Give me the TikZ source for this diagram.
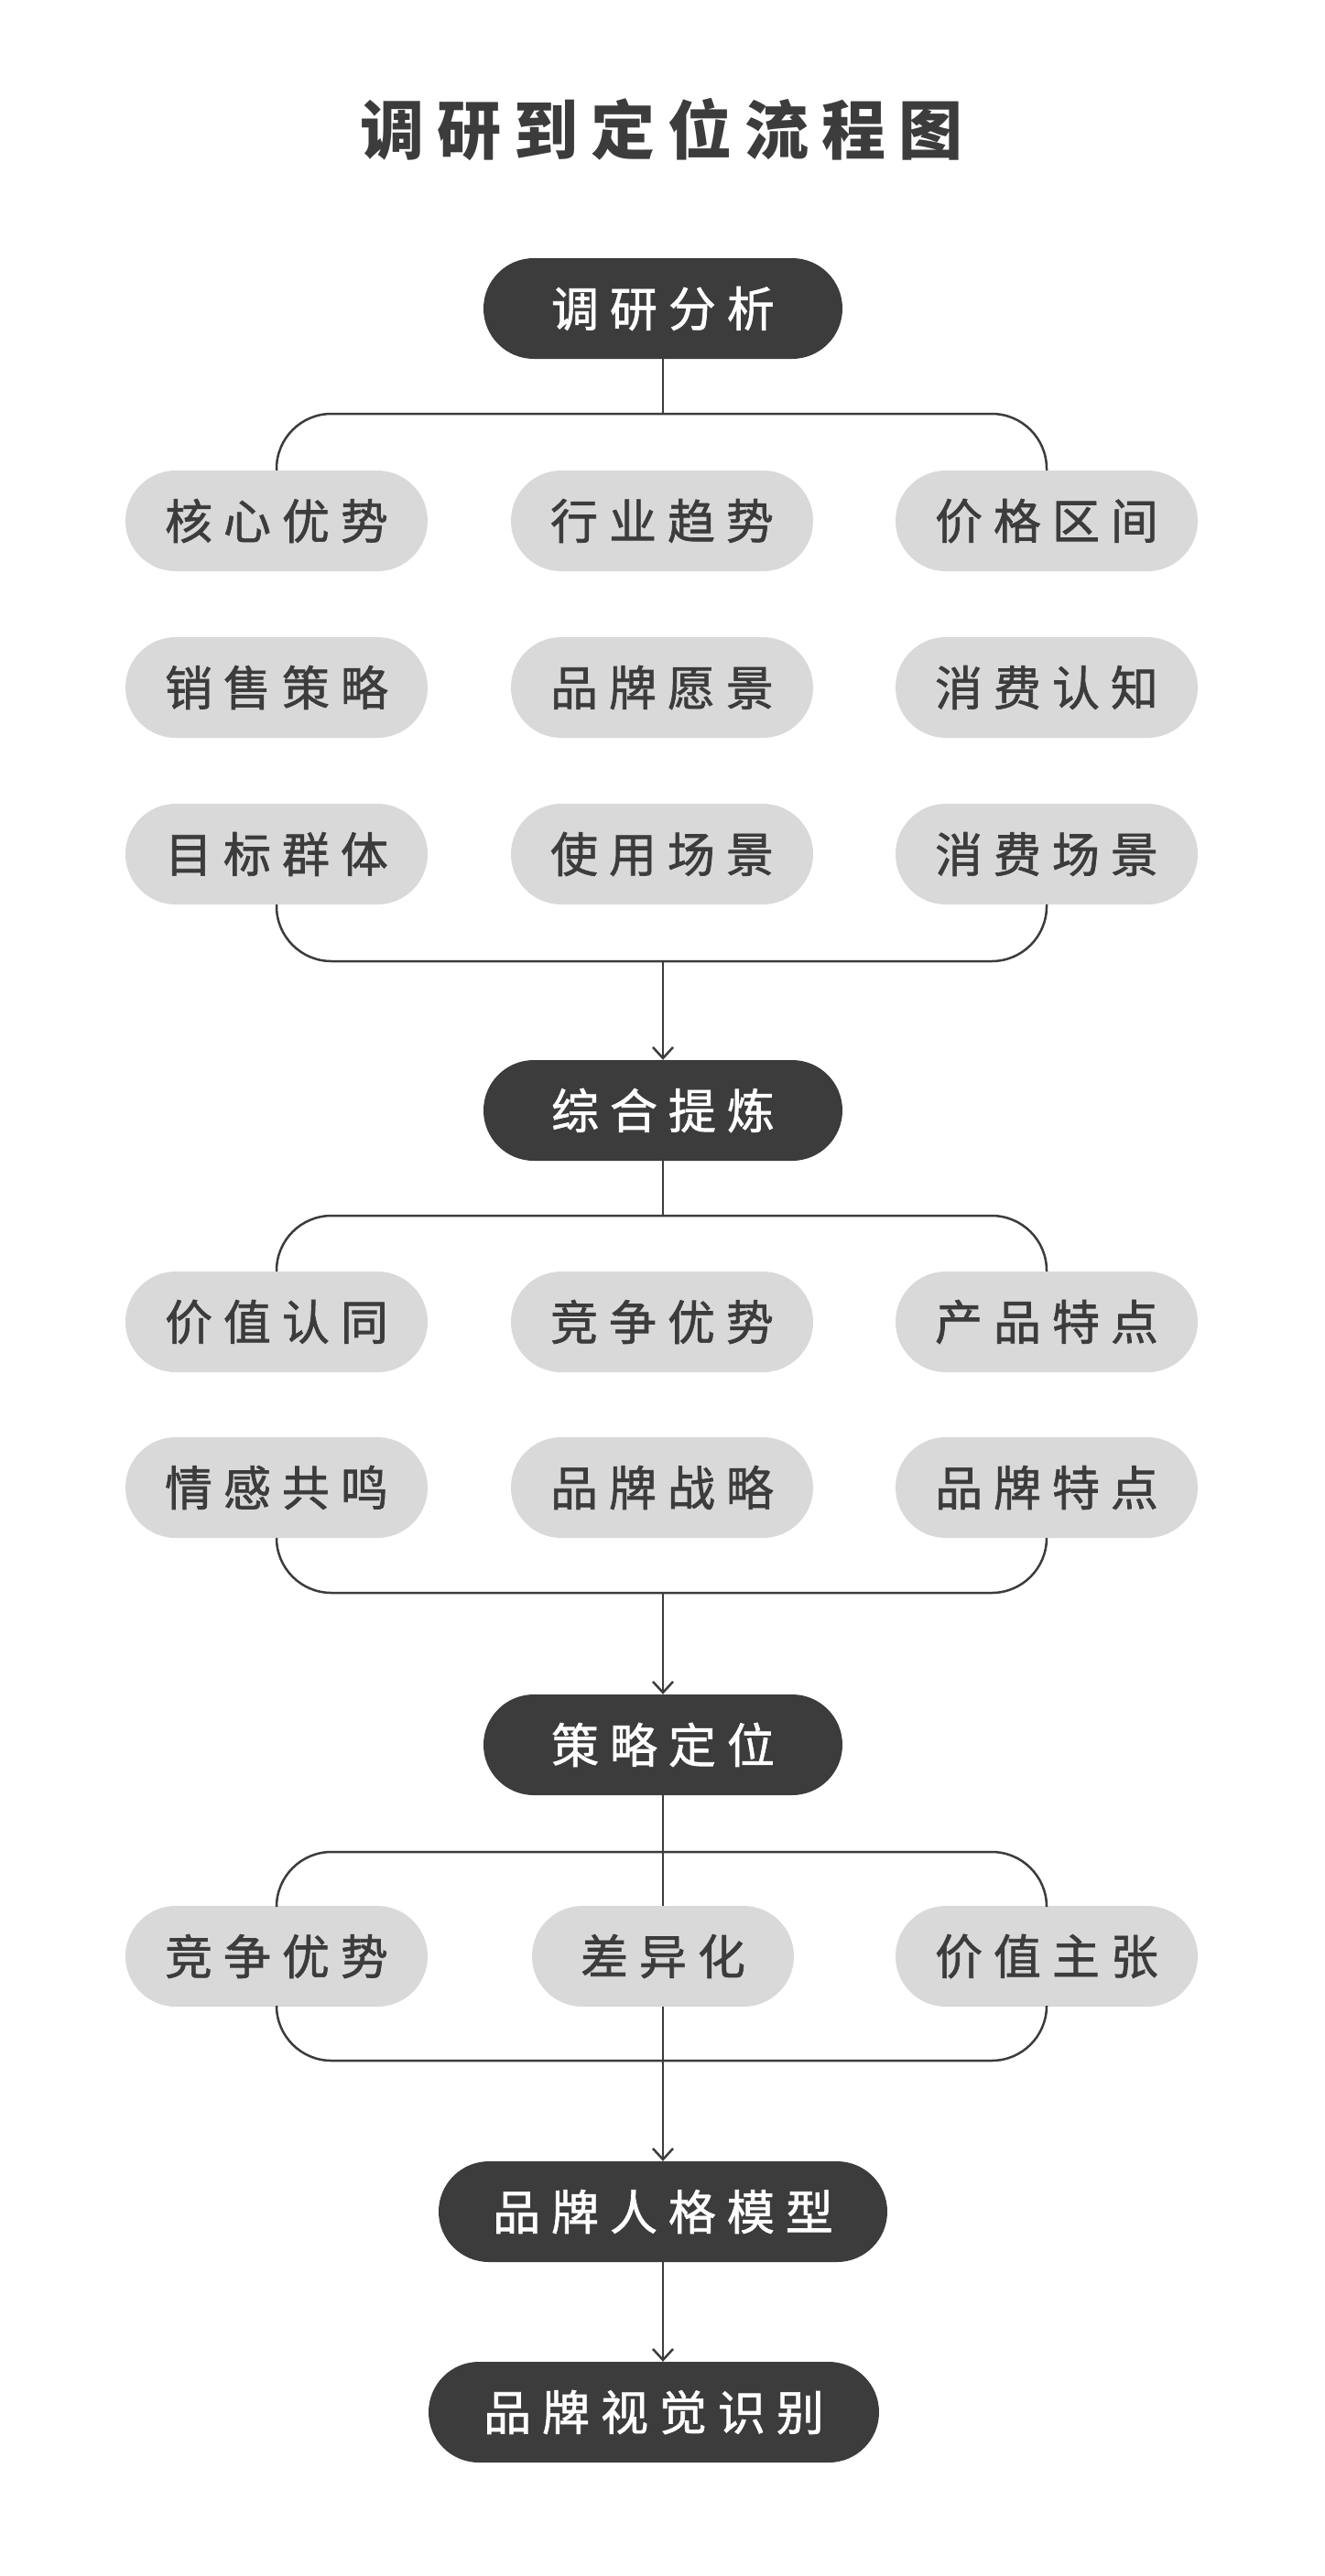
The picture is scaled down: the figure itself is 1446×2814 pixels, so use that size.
\documentclass[tikz,border=0pt]{standalone}
\usepackage{fontspec}
\usetikzlibrary{arrows.meta}
\newfontfamily\boxfont[LetterSpace=23,FakeBold=1.3]{Noto Sans CJK SC}
\newfontfamily\titlefont[LetterSpace=20]{Noto Sans CJK SC}
\definecolor{dk}{HTML}{3C3C3C}
\definecolor{lg}{HTML}{D9D9D9}
\tikzset{
  pill/.style={rounded corners=55pt, minimum height=110pt, inner sep=0pt,
    font=\boxfont\fontsize{52}{60}\selectfont},
  darkbox/.style={pill, fill=dk, text=white},
  graybox/.style={pill, fill=lg, text=dk, minimum width=330pt},
  link/.style={draw=dk, line width=2.5pt},
  bracket/.style={link, rounded corners=60pt},
  flow/.style={link, -{Straight Barb[length=12pt,width=22pt,line width=2.5pt]}},
}
\begin{document}
\begin{tikzpicture}[x=1pt,y=-1pt]
\path[fill=white, use as bounding box] (0,0) rectangle (1446,2814);
\node[text=dk, font=\titlefont\bfseries\fontsize{70}{80}\selectfont] (title) at (722,142) {调研到定位流程图};

% section 1
\node[darkbox, minimum width=392pt] (n1) at (724,337) {调研分析};
\node[graybox] (a1) at (302,569) {核心优势};
\node[graybox] (b1) at (723,569) {行业趋势};
\node[graybox] (c1) at (1143,569) {价格区间};
\node[graybox] (a2) at (302,751) {销售策略};
\node[graybox] (b2) at (723,751) {品牌愿景};
\node[graybox] (c2) at (1143,751) {消费认知};
\node[graybox] (a3) at (302,933) {目标群体};
\node[graybox] (b3) at (723,933) {使用场景};
\node[graybox] (c3) at (1143,933) {消费场景};
\coordinate (t1) at (724,452);
\coordinate (u1) at (724,1050);

% section 2
\node[darkbox, minimum width=392pt] (n2) at (724,1213) {综合提炼};
\node[graybox] (d1) at (302,1444) {价值认同};
\node[graybox] (e1) at (723,1444) {竞争优势};
\node[graybox] (f1) at (1143,1444) {产品特点};
\node[graybox] (d2) at (302,1625) {情感共鸣};
\node[graybox] (e2) at (723,1625) {品牌战略};
\node[graybox] (f2) at (1143,1625) {品牌特点};
\coordinate (t2) at (724,1328);
\coordinate (u2) at (724,1740);

% section 3
\node[darkbox, minimum width=392pt] (n3) at (724,1906) {策略定位};
\node[graybox] (g1) at (302,2137) {竞争优势};
\node[graybox, minimum width=286pt] (h1) at (724,2137) {差异化};
\node[graybox] (i1) at (1143,2137) {价值主张};
\coordinate (t3) at (724,2023);
\coordinate (u3) at (724,2251);

% final
\node[darkbox, minimum width=490pt] (n4) at (724,2416) {品牌人格模型};
\node[darkbox, minimum width=492pt] (n5) at (714,2635) {品牌视觉识别};

% connectors section 1
\draw[link] (n1.south) -- (t1);
\draw[bracket] (a1.north) |- (t1) -| (c1.north);
\draw[bracket] (a3.south) |- (u1) -| (c3.south);
\draw[flow] (u1) -- (n2.north);

% connectors section 2
\draw[link] (n2.south) -- (t2);
\draw[bracket] (d1.north) |- (t2) -| (f1.north);
\draw[bracket] (d2.south) |- (u2) -| (f2.south);
\draw[flow] (u2) -- (n3.north);

% connectors section 3
\draw[link] (n3.south) -- (h1.north);
\draw[bracket] (g1.north) |- (t3) -| (i1.north);
\draw[bracket] (g1.south) |- (u3) -| (i1.south);
\draw[flow] (h1.south) -- (n4.north);

% final
\draw[flow] (n4.south) -- (n4.south |- n5.north);
\end{tikzpicture}
\end{document}
